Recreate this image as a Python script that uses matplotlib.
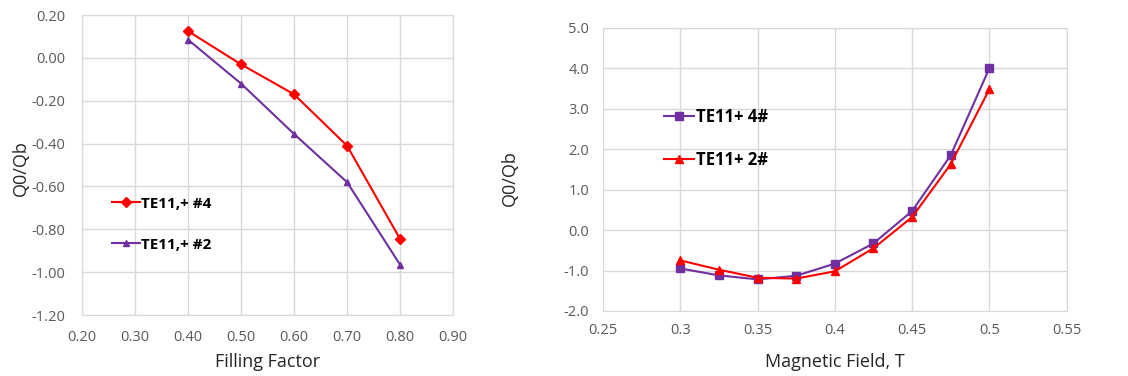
import numpy as np
import matplotlib.pyplot as plt
from matplotlib.ticker import FuncFormatter

plt.rcParams['font.family'] = ['Open Sans', 'DejaVu Sans']
plt.rcParams['font.size'] = 10

# left panel data
fill = [0.40, 0.50, 0.60, 0.70, 0.80]
q_te4 = [0.125, -0.03, -0.17, -0.41, -0.845]
q_te2 = [0.085, -0.12, -0.355, -0.58, -0.965]

# right panel data
field = [0.3, 0.325, 0.35, 0.375, 0.4, 0.425, 0.45, 0.475, 0.5]
q_4h = [-0.95, -1.12, -1.22, -1.13, -0.83, -0.33, 0.47, 1.85, 4.0]
q_2h = [-0.75, -0.98, -1.18, -1.20, -1.02, -0.45, 0.32, 1.63, 3.48]

left_yticks = [-1.2, -1.0, -0.8, -0.6, -0.4, -0.2, 0.0, 0.2]
left_xticks = [0.2, 0.3, 0.4, 0.5, 0.6, 0.7, 0.8, 0.9]
right_yticks = [-2.0, -1.0, 0.0, 1.0, 2.0, 3.0, 4.0, 5.0]
right_xticks = [0.25, 0.3, 0.35, 0.4, 0.45, 0.5, 0.55]
right_xlabels = ['0.25', '0.3', '0.35', '0.4', '0.45', '0.5', '0.55']

red = '#FF0000'
purple = '#7030A0'
grid = '#D9D9D9'
tick = '#595959'

fig = plt.figure(figsize=(11.28, 3.76), dpi=100)
ax1 = fig.add_axes([0.0727, 0.162, 0.329, 0.798])
ax2 = fig.add_axes([0.5346, 0.173, 0.411, 0.753])

for ax in (ax1, ax2):
    ax.grid(True, color=grid, lw=1)
    ax.set_axisbelow(True)
    for s in ax.spines.values():
        s.set_color(grid)
    ax.tick_params(length=0, colors=tick, labelsize=10.5)

ax1.plot(fill, q_te4, color=red, marker='D', ms=5, lw=1.5, label='TE11,+ #4')
ax1.plot(fill, q_te2, color=purple, marker='^', ms=5, lw=1.5, label='TE11,+ #2')
ax1.set_xlim(0.2, 0.9)
ax1.set_ylim(-1.2, 0.2)
ax1.set_xticks(left_xticks)
ax1.set_yticks(left_yticks)
ax1.xaxis.set_major_formatter(FuncFormatter(lambda v, p: '%.2f' % (round(v, 2) + 0.0)))
ax1.yaxis.set_major_formatter(FuncFormatter(lambda v, p: '%.2f' % (round(v, 2) + 0.0)))
ax1.tick_params(axis='x', pad=11)
ax1.tick_params(axis='y', pad=12)
ax1.set_xlabel('Filling Factor', fontsize=13, color='#262626')
ax1.set_ylabel('Q0/Qb', fontsize=13, color='#262626')
ax1.xaxis.set_label_coords(0.5, -0.125)
ax1.yaxis.set_label_coords(-0.14, 0.49)
ax1.legend(loc='upper left', bbox_to_anchor=(0.045, 0.44), frameon=False,
           handlelength=1.8, handletextpad=0.1, labelspacing=1.75,
           prop={'weight': 'bold', 'size': 11})

ax2.plot(field, q_4h, color=purple, marker='s', ms=6, lw=1.5, label='TE11+ 4#')
ax2.plot(field, q_2h, color=red, marker='^', ms=6, lw=1.5, label='TE11+ 2#')
ax2.set_xlim(0.25, 0.55)
ax2.set_ylim(-2.0, 5.0)
ax2.set_xticks(right_xticks)
ax2.set_xticklabels(right_xlabels)
ax2.set_yticks(right_yticks)
ax2.yaxis.set_major_formatter(FuncFormatter(lambda v, p: '%.1f' % (round(v, 1) + 0.0)))
ax2.tick_params(axis='x', pad=9)
ax2.tick_params(axis='y', pad=10)
ax2.set_xlabel('Magnetic Field, T', fontsize=13, color='#262626')
ax2.set_ylabel('Q0/Qb', fontsize=13, color='#262626')
ax2.xaxis.set_label_coords(0.5, -0.148)
ax2.yaxis.set_label_coords(-0.181, 0.47)
ax2.legend(loc='upper left', bbox_to_anchor=(0.1, 0.77), frameon=False,
           handlelength=1.8, handletextpad=0.1, labelspacing=1.5,
           prop={'weight': 'bold', 'size': 12})

fig.savefig('out.png', dpi=100)
